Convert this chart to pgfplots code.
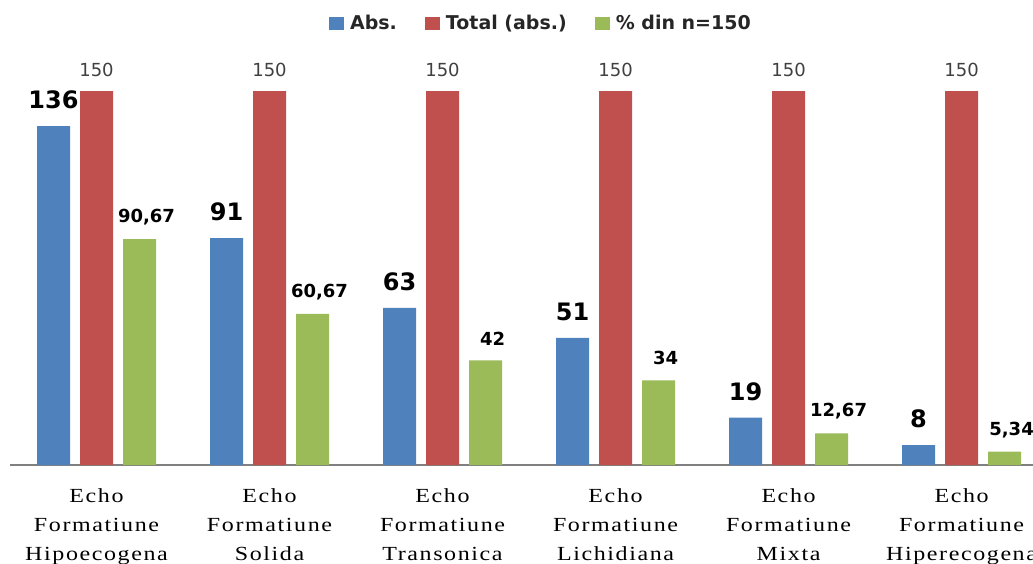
\documentclass[border=0pt]{standalone}
\usepackage{pgfplots}
\pgfplotsset{compat=1.18}
\usepackage{fontspec}
\setmainfont{DejaVu Sans}
\newfontfamily\sansf{DejaVu Sans}
\newfontfamily\catfont[FakeStretch=1.2,LetterSpace=8]{Liberation Serif}
\definecolor{cblue}{HTML}{4F81BD}
\definecolor{cred}{HTML}{C0504D}
\definecolor{cgreen}{HTML}{9BBB59}
\begin{document}
\begin{tikzpicture}
\useasboundingbox (0,0) rectangle (516.5pt,281.5pt);
\begin{axis}[
  at={(5pt,49pt)}, anchor=south west,
  scale only axis, width=511.5pt, height=205pt,
  xmin=-0.5, xmax=5.413, ymin=0, ymax=164.5,
  axis x line=bottom, axis y line=none,
  x axis line style={-, draw=black!50, line width=0.6pt},
  xtick={0,1,2,3,4,5},
  xticklabels={{Echo\\Formatiune\\Hipoecogena},{Echo\\Formatiune\\Solida},{Echo\\Formatiune\\Transonica},{Echo\\Formatiune\\Lichidiana},{Echo\\Formatiune\\Mixta},{Echo\\Formatiune\\Hiperecogena}},
  xticklabel style={align=center, font=\catfont\fontsize{10}{14.5}\selectfont, anchor=north, yshift=-8.4pt},
  major tick length=0pt,
  ybar, bar width=16.5pt,
  /pgf/number format/.cd, use comma, 1000 sep={}, assume math mode=true,
  /pgfplots/.cd,
  legend columns=-1,
  legend style={at={(0.52,1.076)}, anchor=center, draw=none, fill=none,
    font=\sansf\bfseries\fontsize{9.5}{11}\selectfont, text=black!85,
    /tikz/every even column/.append style={column sep=12pt},
    /tikz/every odd column/.append style={column sep=1pt},
    inner sep=0pt},
  legend image code/.code={\fill[#1] (0pt,-3.25pt) rectangle (7.5pt,3.25pt);},
  clip=false,
]
\addplot[fill=cblue, draw=none, bar shift=-21.5pt,
  nodes near coords, every node near coord/.append style={font=\sansf\bfseries\fontsize{12}{14}\selectfont, text=black, anchor=center, yshift=13pt}]
  coordinates {(0,136) (1,91) (2,63) (3,51) (4,19) (5,8)};
\addplot[fill=cred, draw=none, bar shift=0pt,
  nodes near coords, every node near coord/.append style={font=\sansf\fontsize{9}{11}\selectfont, text=black!75, anchor=center, yshift=10.5pt}]
  coordinates {(0,150) (1,150) (2,150) (3,150) (4,150) (5,150)};
\addplot[fill=cgreen, draw=none, bar shift=21.5pt,
  nodes near coords, every node near coord/.append style={font=\sansf\bfseries\fontsize{9}{11}\selectfont, text=black, anchor=center, yshift=11pt, xshift=3.5pt}]
  coordinates {(0,90.67) (1,60.67) (2,42) (3,34) (4,12.67) (5,5.34)};
\legend{Abs.,Total (abs.),\% din n=150}
\end{axis}
\end{tikzpicture}
\end{document}
